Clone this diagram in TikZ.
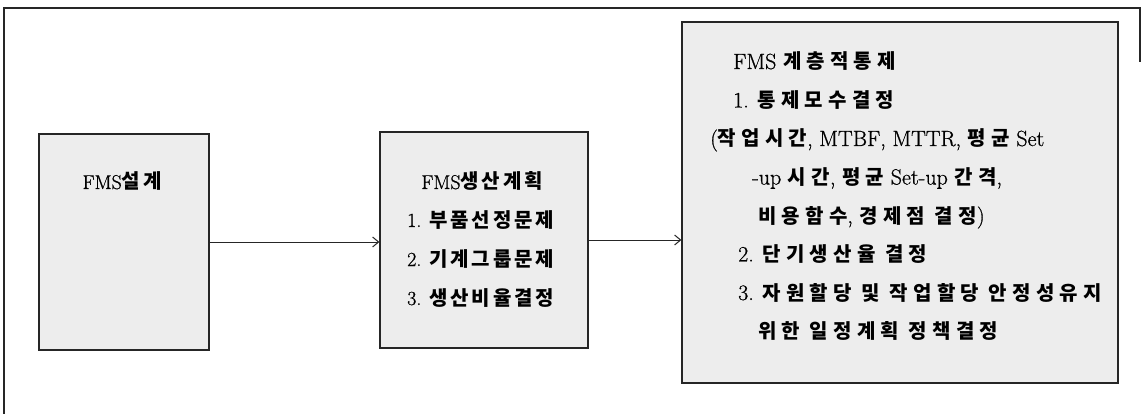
\documentclass[tikz,border=0pt]{standalone}
\usepackage{fontspec}
\setmainfont{Latin Modern Roman}[FakeBold=0.8]
\newfontfamily\krmid[LetterSpace=14]{Noto Sans CJK KR}
\newfontfamily\krright[LetterSpace=26]{Noto Sans CJK KR}
\usetikzlibrary{arrows.meta}
\newcommand{\K}[1]{{\krmid\fontsize{20}{22}\selectfont\bfseries #1}}
\newcommand{\R}[1]{{\krright\fontsize{20}{22}\selectfont\bfseries #1}}
\tikzset{
  frameline/.style={line width=2pt, draw=black!85},
  box/.style={draw=black!85, line width=1.3pt, fill=black!7, inner sep=0pt},
  txt/.style={anchor=base west, inner sep=0pt, font=\fontsize{20}{22}\selectfont},
  rtxt/.style={anchor=base west, inner sep=0pt, font=\fontsize{22}{24}\selectfont},
  ctxt/.style={anchor=base, inner sep=0pt, font=\fontsize{20}{22}\selectfont},
  arr/.style={draw=black!85, line width=1pt, -{Straight Barb[length=6pt,width=10pt,line width=1pt]}}
}
\begin{document}
\begin{tikzpicture}[x=1pt,y=-1pt]
\useasboundingbox (0,0) rectangle (1143,414);
% outer frame (partially visible)
\coordinate (f0) at (4,414);
\coordinate (f1) at (4,8);
\coordinate (f2) at (1140,8);
\coordinate (f3) at (1140,62);
\draw[frameline] (f0) -- (f1) -- (f2) -- (f3);
% boxes
\node[box, minimum width=170pt, minimum height=216pt] (b1) at (124,242) {};
\node[box, minimum width=208pt, minimum height=216pt] (b2) at (484,240) {};
\node[box, minimum width=436pt, minimum height=361pt] (b3) at (900,202.5) {};
% box 1 text
\node[ctxt] (a1) at (122,189) {FMS\K{설계}};
% box 2 text
\node[ctxt] (m0) at (482,189) {FMS\K{생산계획}};
\node[txt] (m1) at (407,227) {1. \K{부품선정문제}};
\node[txt] (m2) at (407,266) {2. \K{기계그룹문제}};
\node[txt] (m3) at (407,305) {3. \K{생산비율결정}};
% box 3 text
\node[rtxt] (r1) at (733,69) {FMS \R{계층적통제}};
\node[rtxt] (r2) at (733,107.5) {1. \R{통제모수결정}};
\node[rtxt] (r3) at (710,146) {(\R{작업시간}, MTBF, MTTR, \R{평균} Set};
\node[rtxt] (r4) at (752,184.5) {-up \R{시간}, \R{평균} Set-up \R{간격},};
\node[rtxt] (r5) at (758,223) {\R{비용함수}, \R{경제점 결정})};
\node[rtxt] (r6) at (738,261.5) {2. \R{단기생산율 결정}};
\node[rtxt] (r7) at (738,300) {3. \R{자원할당 및 작업할당 안정성유지}};
\node[rtxt] (r8) at (758,338.5) {\R{위한 일정계획 정책결정}};
% connectors
\draw[arr] (b1.east) -- (b1.east -| b2.west);
\draw[arr] (b2.east) -- (b2.east -| b3.west);
\end{tikzpicture}
\end{document}
